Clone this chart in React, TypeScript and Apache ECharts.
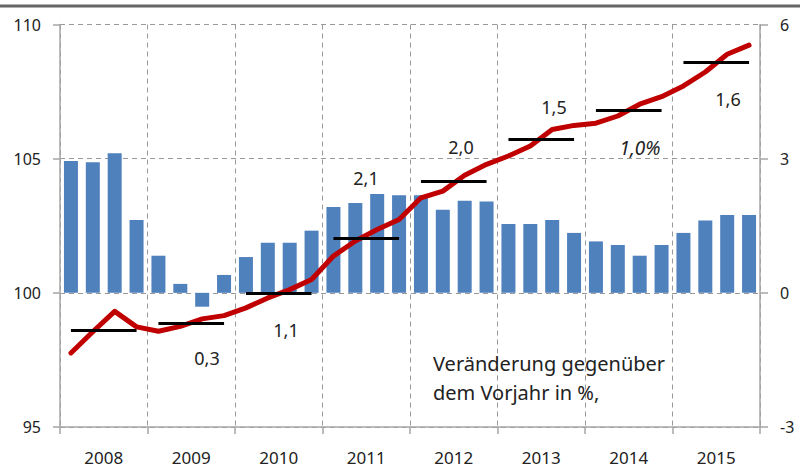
import React, { useEffect, useRef } from "react";
import * as echarts from "echarts";

const years = ["2008", "2009", "2010", "2011", "2012", "2013", "2014", "2015"];
const quarters = years.flatMap((y) => ["Q1", "Q2", "Q3", "Q4"].map((q) => y + q));

// Veränderung gegenüber Vorjahr in % (rechte Achse)
const changeValues = [
  2.95, 2.92, 3.12, 1.63,
  0.83, 0.2, -0.31, 0.4,
  0.8, 1.12, 1.12, 1.39,
  1.92, 2.01, 2.21, 2.18,
  2.18, 1.86, 2.06, 2.04,
  1.54, 1.54, 1.63, 1.34,
  1.15, 1.07, 0.83, 1.07,
  1.34, 1.62, 1.74, 1.74,
];

// Index (linke Achse)
const indexValues = [
  97.76, 98.55, 99.31, 98.73,
  98.57, 98.75, 99.03, 99.15,
  99.44, 99.81, 100.12, 100.5,
  101.37, 101.93, 102.36, 102.73,
  103.54, 103.79, 104.38, 104.79,
  105.1, 105.47, 106.09, 106.24,
  106.32, 106.59, 107.03, 107.31,
  107.71, 108.23, 108.89, 109.23,
];

// Jahresdurchschnitt des Index
const annualAverages = [98.6, 98.87, 99.97, 102.05, 104.15, 105.72, 106.82, 108.58];

// Jahresveränderungsraten (Beschriftung)
const annualRateLabels = ["0,3", "1,1", "2,1", "2,0", "1,5", "1,0%", "1,6"];

const leftTicks = [95, 100, 105, 110];
const rightTicks = [-3, 0, 3, 6];

const FONT = "'Noto Sans', 'Open Sans', sans-serif";

export default function App() {
  const ref = useRef<HTMLDivElement>(null);

  useEffect(() => {
    if (!ref.current) return;
    const chart = echarts.init(ref.current, null, { renderer: "svg" });

    const labelPos: [number, number, boolean][] = [
      [207, 358, false],
      [286, 330, false],
      [366, 178, false],
      [461, 147, false],
      [554, 107, false],
      [640, 148, true],
      [728, 99, false],
    ];

    const option: any = {
      animation: false,
      backgroundColor: "#ffffff",
      textStyle: { fontFamily: FONT },
      grid: { left: 60, right: 40, top: 24.5, bottom: 42, containLabel: false },
      xAxis: [
        {
          type: "category",
          data: quarters,
          show: false,
          boundaryGap: true,
        },
        {
          type: "category",
          data: years,
          position: "bottom",
          boundaryGap: true,
          axisLine: { show: true, lineStyle: { color: "#a6a6a6", width: 1.5 } },
          axisTick: { show: true, alignWithLabel: false, length: 7, lineStyle: { color: "#a6a6a6", width: 1.5 } },
          axisLabel: { color: "#222", fontSize: 17, margin: 22, fontFamily: FONT },
          splitLine: { show: true, lineStyle: { color: "#999", type: [5, 4], width: 1 } },
        },
      ],
      yAxis: [
        {
          type: "value",
          min: 95,
          max: 110,
          interval: 5,
          position: "left",
          axisLine: { show: true, lineStyle: { color: "#a6a6a6", width: 1.5 } },
          axisTick: { show: true, length: 7, lineStyle: { color: "#a6a6a6", width: 1.5 } },
          axisLabel: {
            color: "#222",
            fontSize: 16,
            margin: 19,
            fontFamily: FONT,
            formatter: (v: number) => (leftTicks.includes(v) ? String(v) : ""),
          },
          splitLine: { show: true, lineStyle: { color: "#999", type: [5, 4], width: 1 } },
        },
        {
          type: "value",
          min: -3,
          max: 6,
          interval: 3,
          position: "right",
          axisLine: { show: true, lineStyle: { color: "#a6a6a6", width: 1.5 } },
          axisTick: { show: true, length: 8, lineStyle: { color: "#a6a6a6", width: 1.5 } },
          axisLabel: {
            color: "#222",
            fontSize: 16,
            margin: 20,
            fontFamily: FONT,
            formatter: (v: number) => (rightTicks.includes(v) ? String(v) : ""),
          },
          splitLine: { show: false },
        },
      ],
      series: [
        {
          type: "bar",
          xAxisIndex: 0,
          yAxisIndex: 1,
          data: changeValues,
          barWidth: 14,
          itemStyle: { color: "#4f81bd" },
          z: 2,
        },
        {
          type: "line",
          xAxisIndex: 0,
          yAxisIndex: 0,
          data: indexValues,
          symbol: "none",
          lineStyle: { color: "#c00000", width: 5, cap: "round", join: "round" },
          z: 4,
        },
        {
          type: "line",
          xAxisIndex: 0,
          yAxisIndex: 0,
          data: [],
          symbol: "none",
          z: 5,
          markLine: {
            silent: true,
            symbol: ["none", "none"],
            label: { show: false },
            lineStyle: { color: "#000", width: 3, type: "solid" },
            data: annualAverages.map((v, i) => [
              { coord: [quarters[i * 4], v] },
              { coord: [quarters[i * 4 + 3], v] },
            ]),
          },
        },
      ],
      graphic: [
        {
          type: "line",
          shape: { x1: 0, y1: 6, x2: 800, y2: 6 },
          style: { stroke: "#666", lineWidth: 3 },
        },
        ...annualRateLabels.map((t, i) => ({
          type: "text",
          x: labelPos[i][0],
          y: labelPos[i][1],
          style: {
            text: t,
            fill: "#222",
            font: `${labelPos[i][2] ? "italic 19px" : "18px"} ${FONT}`,
            align: "center",
            verticalAlign: "middle",
          },
          z: 10,
        })),
        {
          type: "text",
          x: 433,
          y: 363,
          style: {
            text: "Veränderung gegenüber",
            fill: "#222",
            font: `20px ${FONT}`,
            align: "left",
            verticalAlign: "middle",
          },
          z: 10,
        },
        {
          type: "text",
          x: 433,
          y: 392,
          style: {
            text: "dem Vorjahr in %,",
            fill: "#222",
            font: `20px ${FONT}`,
            align: "left",
            verticalAlign: "middle",
          },
          z: 10,
        },
      ],
    };

    chart.setOption(option);
    return () => chart.dispose();
  }, []);

  return (
    <div
      ref={ref}
      style={{ position: "absolute", left: 0, top: 0, width: 800, height: 469 }}
    />
  );
}
